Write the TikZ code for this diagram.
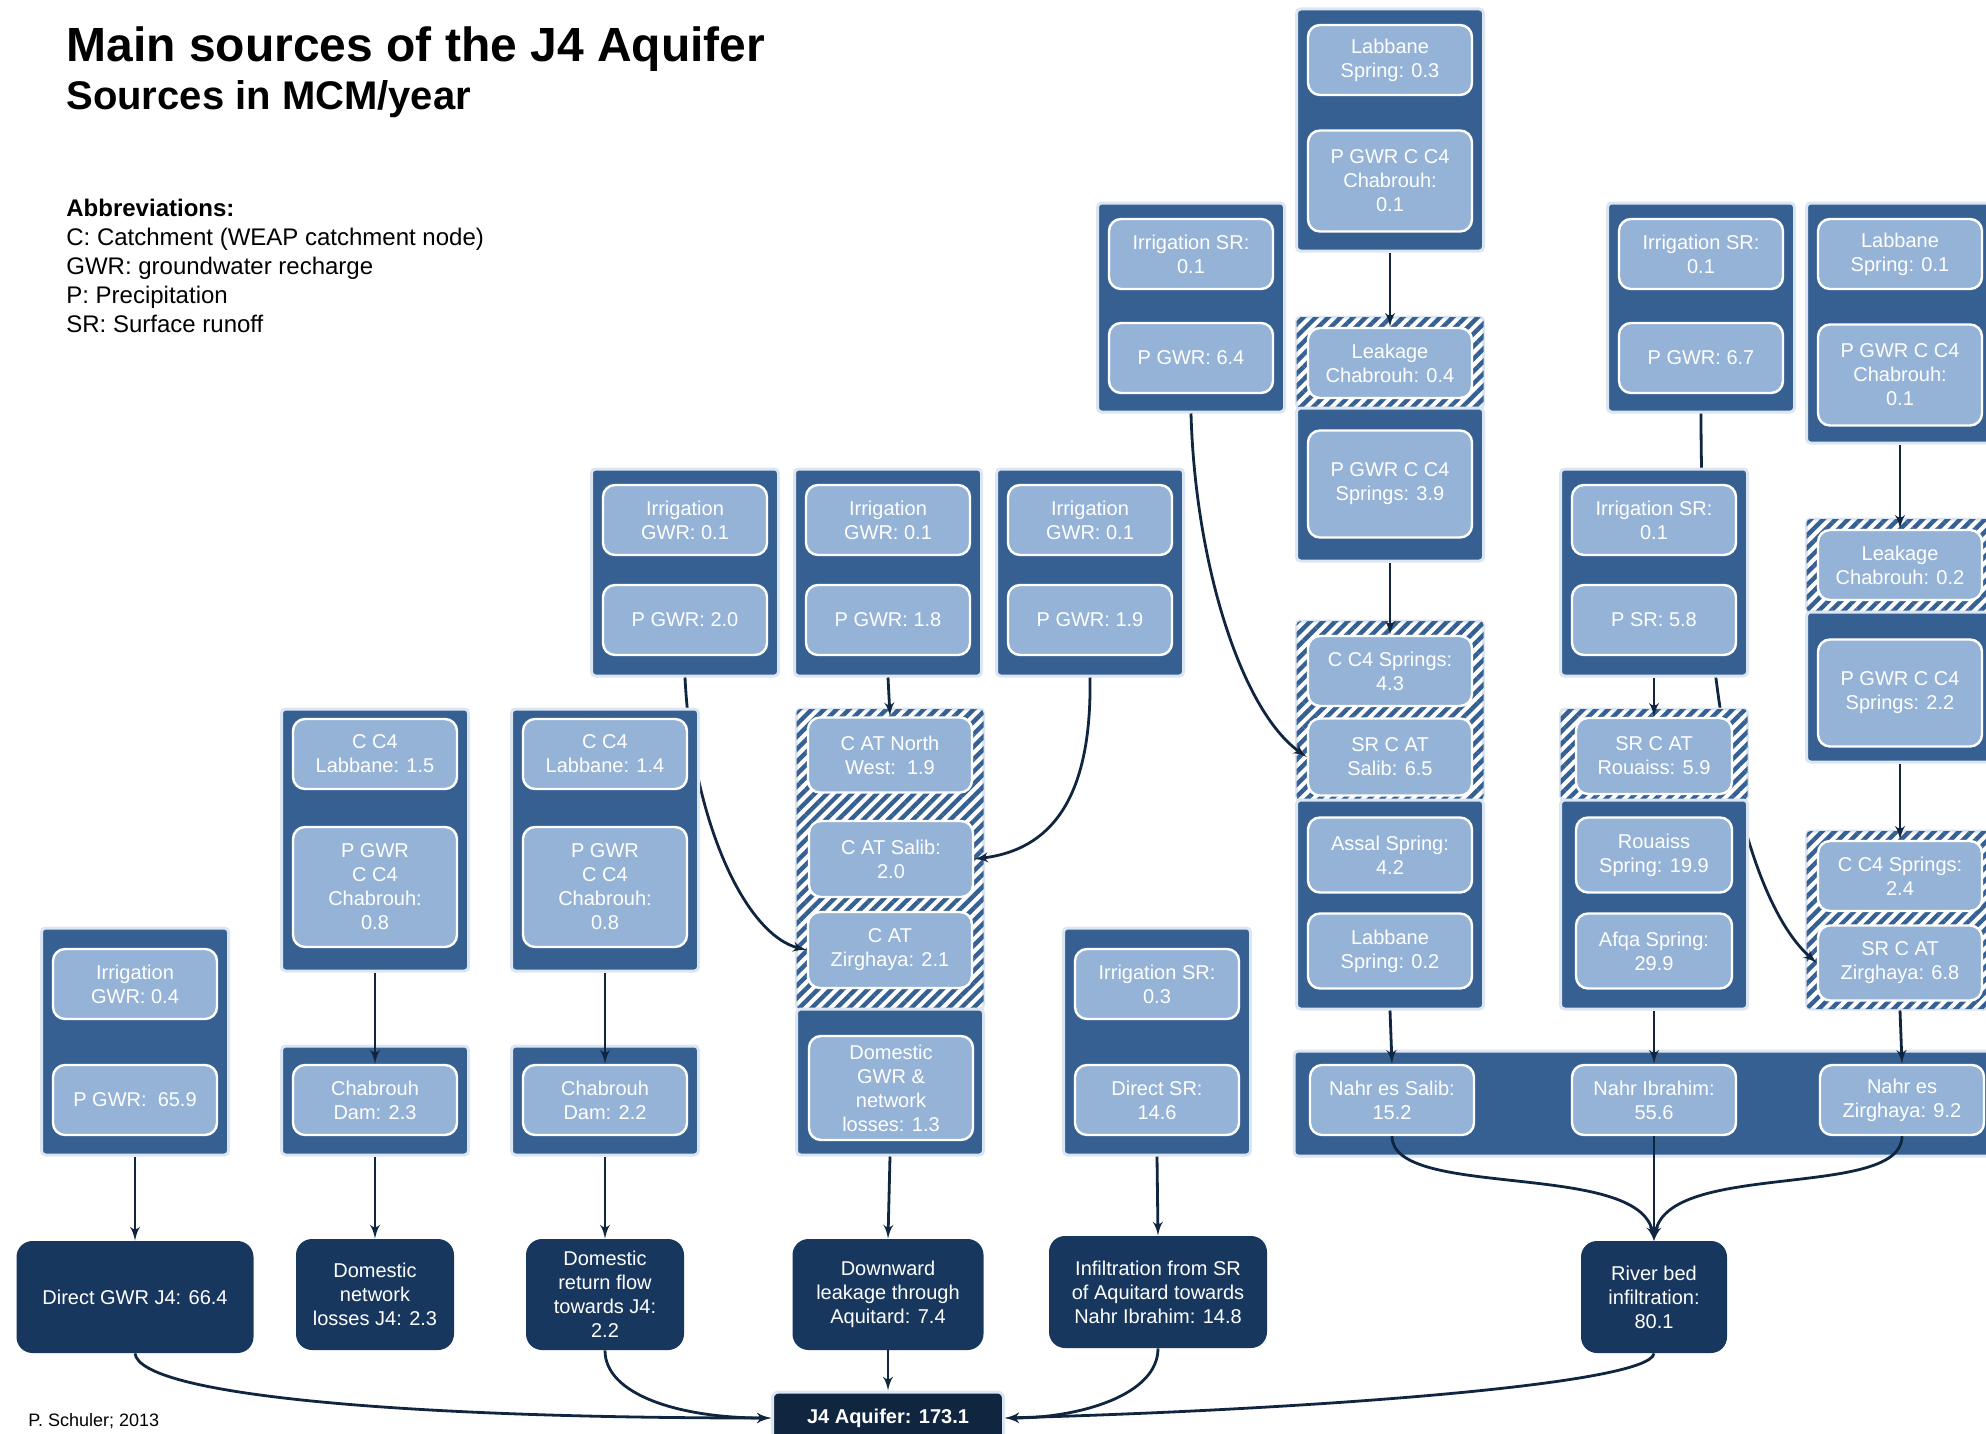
\documentclass[tikz,border=0pt]{standalone}
\usepackage{fontspec}
\setmainfont{Liberation Sans}
\usepackage{xcolor}
\usetikzlibrary{shapes,arrows,patterns.meta}

\definecolor{groupblue}{HTML}{376092}
\definecolor{itemblue}{HTML}{95B3D7}
\definecolor{sinkblue}{HTML}{17375E}
\definecolor{aquiferblue}{HTML}{10253F}
\definecolor{lineblue}{HTML}{10253F}
\definecolor{glow}{HTML}{DCE6F2}

\tikzstyle{group} = [rectangle, draw=glow, line width=1.5pt, fill=groupblue,
rounded corners=2pt, minimum width=93.5pt]
\tikzstyle{hatched} = [group, fill=white,
postaction={pattern={Lines[distance=4.4pt,angle=45,line width=2.2pt]}, pattern color=groupblue}]
\tikzstyle{item} = [rectangle, draw=white, line width=1.2pt, fill=itemblue, text=white,
rounded corners=6pt, align=center, minimum width=82pt, minimum height=35pt,
inner sep=2pt, font=\fontsize{10}{12}\selectfont]
\tikzstyle{sink} = [rectangle, fill=sinkblue, text=white, rounded corners=8pt,
align=center, minimum height=56pt, inner sep=2pt, font=\fontsize{10}{12}\selectfont]
\tikzstyle{aquifer} = [rectangle, draw=glow, line width=1.5pt, fill=aquiferblue, text=white,
rounded corners=3pt, minimum width=115.5pt, minimum height=26pt,
font=\fontsize{10}{12}\selectfont\bfseries]
\tikzstyle{line} = [draw=lineblue, line width=1.4pt, -latex']

\begin{document}
\begin{tikzpicture}[x=0.5pt, y=-0.5pt]
        \useasboundingbox (0,0) rectangle (1986,1434);

        % heading and key
        \node [anchor=base west, inner sep=0pt, font=\fontsize{24}{28}\selectfont\bfseries] (title) at (66,62) {Main sources of the J4 Aquifer};
        \node [anchor=base west, inner sep=0pt, font=\fontsize{20}{24}\selectfont\bfseries] (subtitle) at (66,110) {Sources in MCM/year};
        \node [anchor=north west, inner sep=0pt, align=left, font=\fontsize{12}{14.5}\selectfont] (abbrev) at (66,199)
              {\textbf{Abbreviations:}\\C: Catchment (WEAP catchment node)\\GWR: groundwater recharge\\P: Precipitation\\SR: Surface runoff};
        \node [anchor=base west, inner sep=0pt, font=\fontsize{9}{11}\selectfont] (credit) at (28,1426) {P. Schuler; 2013};

        % Salib chain
        \node [group, minimum height=121pt] (grpLabF) at (1390,130) {};
        \node [item] (labF) at (1390,60) {Labbane\\Spring: 0.3};
        \node [item, minimum height=50.5pt] (chabF) at (1390,181) {P GWR C C4\\Chabrouh:\\0.1};
        \node [hatched, minimum height=45.5pt] (hatchLeakF) at (1390,362.5) {};
        \node [item] (leakF) at (1390,363) {Leakage\\Chabrouh: 0.4};
        \node [group, minimum height=76.5pt] (grpSprF) at (1390,484.5) {};
        \node [item, minimum height=53.5pt] (sprF) at (1390,484) {P GWR C C4\\Springs: 3.9};
        \node [hatched, minimum height=89.5pt] (hatchSalF) at (1390,710.5) {};
        \node [item] (c4F) at (1390,671) {C C4 Springs:\\4.3};
        \node [item, minimum height=38.5pt] (srF) at (1390,757) {SR C AT\\Salib: 6.5};
        \node [group, minimum height=104.5pt] (grpAssal) at (1390,904.5) {};
        \node [item, minimum height=37.5pt] (assal) at (1390,855) {Assal Spring:\\4.2};
        \node [item, minimum height=37.5pt] (labF2) at (1390,951) {Labbane\\Spring: 0.2};

        \node [group, minimum height=104.5pt] (grpSalIrr) at (1191,307.5) {};
        \node [item] (irrF) at (1191,254) {Irrigation SR:\\0.1};
        \node [item] (pgwrF) at (1191,358) {P GWR: 6.4};

        \node [group, minimum height=104.5pt] (grpRouIrr) at (1701,307.5) {};
        \node [item] (irrG) at (1701,254) {Irrigation SR:\\0.1};
        \node [item] (pgwrG) at (1701,358) {P GWR: 6.7};

        % Zirghaya chain
        \node [group, minimum height=120pt] (grpLabI) at (1900,323) {};
        \node [item] (labI) at (1900,254) {Labbane\\Spring: 0.1};
        \node [item, minimum height=50.5pt] (chabI) at (1900,375) {P GWR C C4\\Chabrouh:\\0.1};
        \node [hatched, minimum height=46.5pt] (hatchLeakI) at (1900,565.5) {};
        \node [item] (leakI) at (1900,565) {Leakage\\Chabrouh: 0.2};
        \node [group, minimum height=75pt] (grpSprI) at (1900,687) {};
        \node [item, minimum height=53.5pt] (sprI) at (1900,693) {P GWR C C4\\Springs: 2.2};
        \node [hatched, minimum height=89pt] (hatchZirI) at (1900,920) {};
        \node [item] (c4I) at (1900,876) {C C4 Springs:\\2.4};
        \node [item, minimum height=37.5pt] (srI) at (1900,963) {SR C AT\\Zirghaya: 6.8};

        % irrigation over the AT catchments
        \node [group, minimum height=103.5pt] (grpIrrA) at (685,572.5) {};
        \node [item] (irrA) at (685,520) {Irrigation\\GWR: 0.1};
        \node [item] (pgwrA) at (685,620) {P GWR: 2.0};
        \node [group, minimum height=103.5pt] (grpIrrB) at (888,572.5) {};
        \node [item] (irrB) at (888,520) {Irrigation\\GWR: 0.1};
        \node [item] (pgwrB) at (888,620) {P GWR: 1.8};
        \node [group, minimum height=103.5pt] (grpIrrC) at (1090,572.5) {};
        \node [item] (irrC) at (1090,520) {Irrigation\\GWR: 0.1};
        \node [item] (pgwrC) at (1090,620) {P GWR: 1.9};

        \node [hatched, minimum height=150pt] (hatchAT) at (890,859) {};
        \node [item, minimum height=37.5pt] (nwD) at (890,755) {C AT North\\West:\ \ 1.9};
        \node [item, minimum height=38pt] (salD) at (891,859) {C AT Salib:\\2.0};
        \node [item, minimum height=38pt] (zirD) at (890,950) {C AT\\Zirghaya: 2.1};
        \node [group, minimum height=73pt] (grpDom) at (890,1082) {};
        \node [item, minimum height=52pt] (domD) at (891,1088) {Domestic\\GWR \&\\network\\losses: 1.3};

        % these two run under the boxes placed after them
        \path [line] (grpIrrA.south) .. controls (692,820) and (745,935) .. (zirD.west);
        \path [line] (grpRouIrr.south) .. controls (1701,700) and (1745,900) .. (srI.west);

        % Chabrouh dam
        \node [group, minimum height=131pt] (grpLabA) at (375,840) {};
        \node [item] (labA) at (375,754) {C C4\\Labbane: 1.5};
        \node [item, minimum height=60pt] (chabA) at (375,887) {P GWR\\C C4\\Chabrouh:\\0.8};
        \node [group, minimum height=54.5pt] (grpDamA) at (375,1100.5) {};
        \node [item] (damA) at (375,1100) {Chabrouh\\Dam: 2.3};
        \node [group, minimum height=131pt] (grpLabB) at (605,840) {};
        \node [item] (labB) at (605,754) {C C4\\Labbane: 1.4};
        \node [item, minimum height=60pt] (chabB) at (605,887) {P GWR\\C C4\\Chabrouh:\\0.8};
        \node [group, minimum height=54.5pt] (grpDamB) at (605,1100.5) {};
        \node [item] (damB) at (605,1100) {Chabrouh\\Dam: 2.2};

        \node [group, minimum height=113.5pt] (grpDir) at (135,1041.5) {};
        \node [item] (irrDir) at (135,984) {Irrigation\\GWR: 0.4};
        \node [item] (pgwrDir) at (135,1100) {P GWR:\ \ 65.9};

        \node [group, minimum height=113.5pt] (grpSR) at (1157,1041.5) {};
        \node [item] (irrSR) at (1157,984) {Irrigation SR:\\0.3};
        \node [item] (dirSR) at (1157,1100) {Direct SR:\\14.6};

        % Rouaiss / Afqa
        \node [group, minimum height=103.5pt] (grpRouSR) at (1654,572.5) {};
        \node [item] (irrH) at (1654,520) {Irrigation SR:\\0.1};
        \node [item] (psrH) at (1654,620) {P SR: 5.8};
        \node [hatched, minimum height=45.5pt] (hatchRou) at (1654,754.5) {};
        \node [item, minimum width=78pt, minimum height=38pt] (srRou) at (1654,756) {SR C AT\\Rouaiss: 5.9};
        \node [group, minimum height=104.5pt] (grpRou) at (1654,904.5) {};
        \node [item, minimum width=78pt, minimum height=37.5pt] (rouSpr) at (1654,855) {Rouaiss\\Spring: 19.9};
        \node [item, minimum width=78pt, minimum height=37.5pt] (afqa) at (1654,951) {Afqa Spring:\\29.9};

        % rivers
        \node [group, minimum width=358pt, minimum height=52.5pt] (grpNahr) at (1652,1103.5) {};
        \node [item] (nahrS) at (1392,1100) {Nahr es Salib:\\15.2};
        \node [item] (nahrI) at (1654,1100) {Nahr Ibrahim:\\55.6};
        \node [item] (nahrZ) at (1902,1100) {Nahr es\\Zirghaya: 9.2};

        % what reaches the aquifer
        \node [sink, minimum width=118.5pt] (resDir) at (135,1297) {Direct GWR J4: 66.4};
        \node [sink, minimum width=79pt, minimum height=55.5pt] (resNet) at (375,1294.5) {Domestic\\network\\losses J4: 2.3};
        \node [sink, minimum width=79pt, minimum height=55.5pt] (resRet) at (605,1294.5) {Domestic\\return flow\\towards J4:\\2.2};
        \node [sink, minimum width=95.5pt, minimum height=55.5pt] (resLeak) at (888,1294.5) {Downward\\leakage through\\Aquitard: 7.4};
        \node [sink, minimum width=109pt] (resInf) at (1158,1292) {Infiltration from SR\\of Aquitard towards\\Nahr Ibrahim: 14.8};
        \node [sink, minimum width=73pt] (resRiver) at (1654,1297) {River bed\\infiltration:\\80.1};
        \node [aquifer] (aquifer) at (888,1418) {J4 Aquifer: 173.1};

        \path [line] (grpSalIrr.south) .. controls (1195,560) and (1240,710) .. (srF.west);
        \path [line] (grpIrrC.south) .. controls (1092,800) and (1050,850) .. (salD.east);
        \path [line] (grpIrrB.south) -- (nwD.north);
        \path [line] (grpLabF.south) -- (leakF.north);
        \path [line] (grpSprF.south) -- (c4F.north);
        \path [line] (grpAssal.south) -- (nahrS.north);
        \path [line] (grpLabI.south) -- (leakI.north);
        \path [line] (grpSprI.south) -- (c4I.north);
        \path [line] (hatchZirI.south) -- (nahrZ.north);
        \path [line] (grpRouSR.south) -- (srRou.north);
        \path [line] (grpRou.south) -- (nahrI.north);
        \path [line] (grpLabA.south) -- (damA.north);
        \path [line] (grpLabB.south) -- (damB.north);
        \path [line] (grpDir.south) -- (resDir.north);
        \path [line] (grpDamA.south) -- (resNet.north);
        \path [line] (grpDamB.south) -- (resRet.north);
        \path [line] (grpDom.south) -- (resLeak.north);
        \path [line] (grpSR.south) -- (resInf.north);
        \path [line] (resLeak.south) -- (aquifer.north);

        \path [line] (nahrS.south) .. controls (1392,1200) and (1640,1160) .. (resRiver.north);
        \path [line] (nahrI.south) -- (resRiver.north);
        \path [line] (nahrZ.south) .. controls (1902,1200) and (1668,1160) .. (resRiver.north);

        \path [line] (resDir.south) .. controls (140,1395) and (400,1418) .. (aquifer.west);
        \path [line] (resRet.south) .. controls (605,1395) and (680,1418) .. (aquifer.west);
        \path [line] (resInf.south) .. controls (1158,1395) and (1080,1418) .. (aquifer.east);
        \path [line] (resRiver.south) .. controls (1650,1385) and (1300,1410) .. (aquifer.east);
      \end{tikzpicture}
\end{document}
